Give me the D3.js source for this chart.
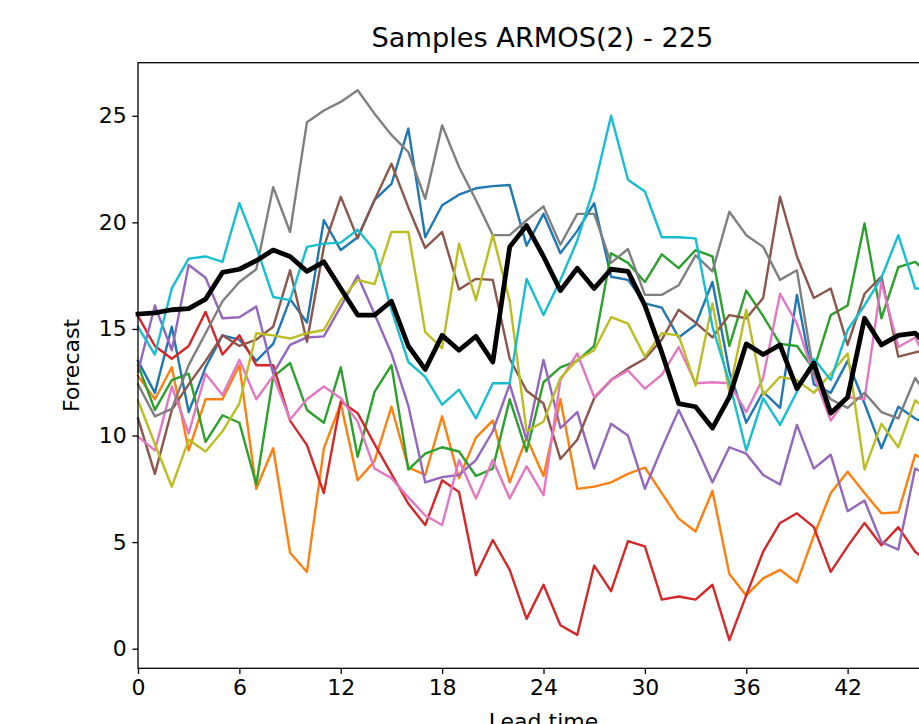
<!DOCTYPE html>
<html>
<head>
<meta charset="utf-8">
<script src="https://cdn.jsdelivr.net/npm/d3@7/dist/d3.min.js"></script>
<style>
body { margin: 0; background: #ffffff; }
text { font-family: "DejaVu Sans", sans-serif; }
</style>
</head>
<body>
<svg id="chart"></svg>
<script>
// lead times on the x axis
var leadTimes = [0, 1, 2, 3, 4, 5, 6, 7, 8, 9, 10, 11, 12, 13, 14, 15, 16, 17, 18, 19, 20, 21, 22, 23,
    24, 25, 26, 27, 28, 29, 30, 31, 32, 33, 34, 35, 36, 37, 38, 39, 40, 41, 42, 43, 44, 45, 46, 47];

// sample paths
var sampleBlue = [13.5, 12.0, 15.1, 11.1, 13.2, 14.7, 14.5, 13.5, 14.3, 16.4, 15.3, 20.1, 18.7, 19.3, 21.05, 21.8,
    24.4, 19.3, 20.8, 21.3, 21.6, 21.7, 21.75, 18.9, 20.4, 18.55, 19.6, 20.9, 17.45, 17.3, 16.2, 16.0,
    14.6, 15.2, 17.2, 13.0, 10.6, 12.05, 11.3, 16.6, 12.4, 12.0, 13.5, 11.5, 9.4, 11.35, 10.8, 10.4];
var sampleOrange = [12.8, 11.7, 13.2, 9.3, 11.7, 11.7, 13.3, 7.5, 9.4, 4.5, 3.6, 9.4, 11.5, 7.9, 8.8, 11.35,
    8.5, 8.15, 10.9, 8.0, 9.9, 10.7, 7.8, 9.9, 8.1, 11.7, 7.5, 7.6, 7.8, 8.2, 8.5, 7.3,
    6.1, 5.5, 7.4, 3.5, 2.5, 3.3, 3.7, 3.1, 5.3, 7.3, 8.3, 7.3, 6.35, 6.4, 9.1, 8.6];
var sampleGreen = [13.3, 11.2, 12.6, 12.9, 9.7, 10.95, 10.6, 7.7, 12.75, 13.4, 11.2, 10.6, 13.2, 9.0, 12.05, 13.3,
    8.4, 9.15, 9.45, 9.25, 8.1, 8.45, 11.7, 9.25, 12.5, 13.2, 13.5, 14.2, 18.55, 18.1, 17.2, 18.5,
    17.85, 18.7, 18.4, 14.2, 16.8, 15.6, 14.3, 14.2, 13.1, 15.65, 16.1, 19.95, 15.5, 17.9, 18.15, 17.4];
var sampleRed = [15.6, 14.2, 13.6, 14.2, 15.8, 13.8, 14.7, 13.3, 13.3, 10.7, 9.55, 7.3, 11.6, 11.05, 9.6, 8.2,
    6.8, 5.8, 7.9, 7.35, 3.45, 5.1, 3.7, 1.4, 3.0, 1.1, 0.65, 3.9, 2.7, 5.05, 4.8, 2.3,
    2.45, 2.3, 3.0, 0.4, 2.5, 4.55, 5.9, 6.35, 5.7, 3.6, 4.8, 5.9, 4.85, 5.7, 4.55, 3.9];
var samplePurple = [13.0, 16.1, 14.0, 18.0, 17.4, 15.5, 15.55, 16.05, 12.9, 14.25, 14.6, 14.65, 16.05, 17.5, 15.7, 13.85,
    11.4, 7.8, 8.05, 8.15, 8.85, 10.2, 12.4, 9.8, 13.55, 10.35, 11.1, 8.45, 10.55, 10.0, 7.5, 9.4,
    11.2, 9.55, 7.8, 9.45, 9.15, 8.15, 7.7, 10.5, 8.45, 9.1, 6.45, 6.95, 5.0, 4.65, 8.45, 8.0];
var sampleBrown = [10.8, 8.2, 11.2, 12.4, 13.5, 14.7, 14.2, 14.5, 15.1, 17.75, 14.4, 18.85, 21.2, 19.25, 21.05, 22.75,
    20.7, 18.8, 19.55, 16.85, 17.35, 17.3, 13.6, 12.1, 11.5, 8.9, 9.8, 11.75, 12.6, 13.15, 13.6, 14.5,
    15.9, 15.3, 14.6, 15.65, 15.5, 16.45, 21.2, 18.4, 16.45, 16.9, 14.25, 16.65, 17.45, 13.7, 13.9, 14.1];
var samplePink = [9.95, 9.3, 12.3, 10.1, 12.9, 11.9, 13.55, 11.7, 12.8, 10.75, 11.7, 12.3, 11.75, 10.65, 8.45, 8.0,
    7.1, 6.25, 5.8, 8.85, 7.05, 8.85, 7.05, 8.55, 7.2, 12.6, 13.85, 11.8, 12.6, 13.05, 12.2, 12.85,
    14.15, 12.45, 12.5, 12.45, 11.1, 12.7, 16.65, 15.25, 12.8, 10.7, 11.8, 11.7, 17.2, 14.15, 14.6, 13.0];
var sampleGray = [12.4, 10.9, 11.25, 13.3, 14.8, 16.3, 17.2, 17.8, 21.65, 19.55, 24.7, 25.25, 25.65, 26.2, 25.1, 24.1,
    23.3, 21.1, 24.55, 22.6, 21.05, 19.4, 19.4, 20.1, 20.75, 18.95, 20.4, 20.4, 18.1, 18.75, 16.6, 16.6,
    17.05, 18.45, 17.7, 20.5, 19.4, 18.85, 17.3, 17.75, 12.9, 11.7, 11.3, 12.0, 11.1, 10.8, 12.7, 11.5];
var sampleOlive = [11.65, 9.6, 7.6, 9.8, 9.25, 10.2, 11.5, 14.8, 14.7, 14.55, 14.8, 14.95, 16.35, 17.3, 17.1, 19.55,
    19.55, 14.85, 14.1, 19.0, 16.35, 19.4, 16.3, 10.2, 10.65, 12.7, 13.55, 14.0, 15.55, 15.25, 13.7, 14.8,
    14.7, 12.35, 16.2, 12.05, 15.9, 11.9, 12.75, 12.6, 12.0, 12.9, 13.85, 8.4, 10.55, 9.45, 11.65, 11.0];
var sampleCyan = [15.1, 13.8, 16.9, 18.3, 18.4, 18.15, 20.9, 18.85, 16.5, 16.35, 18.85, 19.0, 19.05, 19.65, 18.7, 15.9,
    13.45, 12.75, 11.45, 12.15, 10.8, 12.45, 12.45, 17.35, 15.65, 17.3, 19.15, 21.65, 25.0, 22.0, 21.45, 19.3,
    19.3, 19.25, 15.1, 12.5, 9.3, 11.75, 10.5, 12.05, 13.6, 12.6, 14.95, 16.1, 17.4, 19.4, 16.9, 16.9];
var meanLine = [15.7, 15.75, 15.9, 15.95, 16.4, 17.65, 17.8, 18.2, 18.7, 18.4, 17.7, 18.15, 16.9, 15.65, 15.65, 16.3,
    14.2, 13.1, 14.7, 14.0, 14.65, 13.45, 18.85, 19.85, 18.4, 16.8, 17.85, 16.9, 17.8, 17.7, 16.1, 13.9,
    11.5, 11.35, 10.35, 11.8, 14.3, 13.8, 14.25, 12.2, 13.4, 11.05, 11.8, 15.5, 14.25, 14.7, 14.8, 14.0];

var samples = [sampleBlue, sampleOrange, sampleGreen, sampleRed, samplePurple,
    sampleBrown, samplePink, sampleGray, sampleOlive, sampleCyan];
var sampleColors = ["#1f77b4", "#ff7f0e", "#2ca02c", "#d62728", "#9467bd",
    "#8c564b", "#e377c2", "#7f7f7f", "#bcbd22", "#17becf"];

var xTicks = [0, 6, 12, 18, 24, 30, 36, 42];
var yTicks = [0, 5, 10, 15, 20, 25];

var params = {
    width: 919,
    height: 724,
    left: 138,
    right: 949,
    top: 62.7,
    bottom: 668.3,
    xMax: 48,
    yMin: -0.92,
    yMax: 27.49,
    tickLen: 5.6,
    tickPad: 5.6,
    fontSize: 22,
    titleSize: 27.2
};

addGroup = (parent, id) => parent.append("g").attr("id", id);

var svg = d3.select("#chart")
    .attr("width", params.width)
    .attr("height", params.height);

var x = d3.scaleLinear().domain([0, params.xMax]).range([params.left, params.right]);
var y = d3.scaleLinear().domain([params.yMin, params.yMax]).range([params.bottom, params.top]);

var line = d3.line()
    .x(function(d, i) { return x(leadTimes[i]); })
    .y(function(d) { return y(d); });

// sample lines
var linesGroup = addGroup(svg, "samples");
linesGroup.selectAll("path")
    .data(samples)
    .enter()
    .append("path")
    .attr("d", line)
    .attr("fill", "none")
    .attr("stroke", function(d, i) { return sampleColors[i]; })
    .attr("stroke-width", 2.4)
    .attr("stroke-linejoin", "round")
    .attr("stroke-linecap", "square");

// mean on top
addGroup(svg, "mean").append("path")
    .datum(meanLine)
    .attr("d", line)
    .attr("fill", "none")
    .attr("stroke", "#000000")
    .attr("stroke-width", 4.8)
    .attr("stroke-linejoin", "round")
    .attr("stroke-linecap", "square");

// axes
var xAxis = addGroup(svg, "x-axis")
    .attr("transform", "translate(0," + params.bottom + ")")
    .call(d3.axisBottom(x).tickValues(xTicks).tickFormat(d3.format("d"))
        .tickSize(params.tickLen).tickPadding(params.tickPad));
var yAxis = addGroup(svg, "y-axis")
    .attr("transform", "translate(" + params.left + ",0)")
    .call(d3.axisLeft(y).tickValues(yTicks).tickFormat(d3.format("d"))
        .tickSize(params.tickLen).tickPadding(params.tickPad));

[xAxis, yAxis].forEach(function(ax) {
    ax.select(".domain").remove();
    ax.selectAll("line").attr("stroke", "#000").attr("stroke-width", 1.3);
    ax.selectAll("text")
        .attr("fill", "#000")
        .attr("font-size", params.fontSize)
        .attr("font-family", "DejaVu Sans");
});

// frame
svg.append("rect")
    .attr("x", params.left)
    .attr("y", params.top)
    .attr("width", params.right - params.left)
    .attr("height", params.bottom - params.top)
    .attr("fill", "none")
    .attr("stroke", "#000")
    .attr("stroke-width", 1.3);

// title and labels
svg.append("text")
    .attr("x", (params.left + params.right) / 2 - 1)
    .attr("y", 47)
    .attr("text-anchor", "middle")
    .attr("font-size", params.titleSize)
    .text("Samples ARMOS(2) - 225");

svg.append("text")
    .attr("x", (params.left + params.right) / 2)
    .attr("y", 729)
    .attr("text-anchor", "middle")
    .attr("font-size", params.fontSize)
    .text("Lead time");

svg.append("text")
    .attr("transform", "translate(79," + ((params.top + params.bottom) / 2) + ") rotate(-90)")
    .attr("text-anchor", "middle")
    .attr("font-size", params.fontSize)
    .text("Forecast");
</script>
</body>
</html>
